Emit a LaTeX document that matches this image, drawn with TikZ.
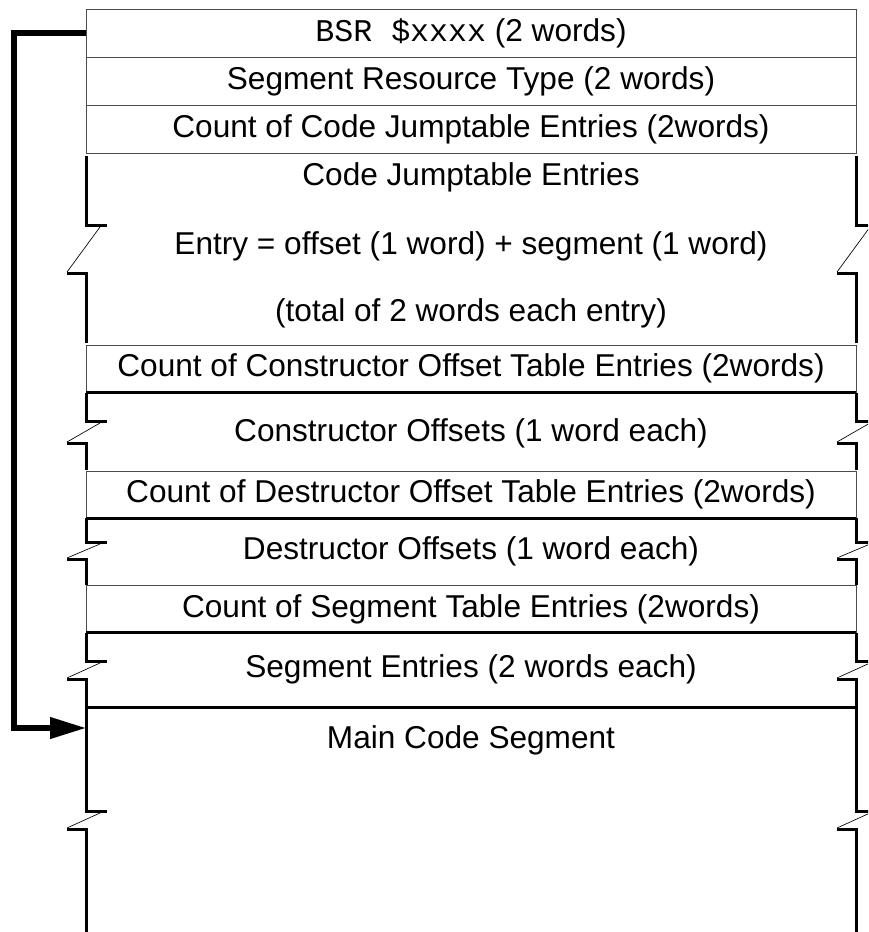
\documentclass[tikz,border=0pt]{standalone}
\usepackage{fontspec}
\setmainfont{Liberation Sans}
\setmonofont{Liberation Mono}
\usepackage{tikz}
\usetikzlibrary{arrows.meta}
\tikzset{field/.style={draw=black!70, line width=0.75pt, minimum width=577.5pt, minimum height=36pt, inner sep=0pt, outer sep=0pt},
fieldlow/.style={field, minimum height=35.25pt},
wall/.style={line width=2.25pt},
breakline/.style={line width=0.5pt},
%thick return arrow of the BSR
jump/.style={line width=4pt, -{Triangle[length=27pt,width=15.5pt]}}}
% wall at x=#1 from #2 to #5, broken between #3 and #4
\newcommand{\brokenwall}[5]{%
\draw[wall] (#1,#2) -- (#1,#3) -- (#1+21,#3);
\draw[breakline] (#1+14,#3+2) -- (#1-19,#4-1);
\draw[wall] (#1-19,#4) -- (#1,#4) -- (#1,#5);}

\begin{document}
\begin{tikzpicture}[x=0.75pt, y=-0.75pt, every node/.style={font=\fontsize{23.7}{28}\selectfont}]
\path[use as bounding box, clip] (0,0) rectangle (868,932);
%\draw[step=50,color=gray] (0,0) grid (868,932);
\node[field] (bsr) at (471,33) {\texttt{BSR \$xxxx} (2 words)};
\node[field] (restype) at (471,81) {Segment Resource Type (2 words)};
\node[field] (cjcount) at (471,129) {Count of Code Jumptable Entries (2words)};
\node (cjhead) at (471,177) {Code Jumptable Entries};
\node (cjentry) at (471,246) {Entry = offset (1 word) + segment (1 word)};
\node (cjtotal) at (471,313) {(total of 2 words each entry)};
\node[fieldlow] (ctorcount) at (471,368.5) {Count of Constructor Offset Table Entries (2words)};
\node (ctoroffs) at (471,433) {Constructor Offsets (1 word each)};
\node[fieldlow] (dtorcount) at (471,494.5) {Count of Destructor Offset Table Entries (2words)};
\node (dtoroffs) at (471,551) {Destructor Offsets (1 word each)};
\node[fieldlow] (segcount) at (471,609) {Count of Segment Table Entries (2words)};
\node (segentries) at (471,669) {Segment Entries (2 words each)};
\node (maincode) at (471,740) {Main Code Segment};
% tops of the sections
\draw[wall] (ctorcount.south west) -- (ctorcount.south east);
\draw[wall] (dtorcount.south west) -- (dtorcount.south east);
\draw[wall] (segcount.south west) -- (segcount.south east);
\draw[wall] (86,707) -- (856,707);
\foreach \wx in {86,856} {
\brokenwall{\wx}{156}{225}{273}{343}
\brokenwall{\wx}{393}{421}{443}{470}
\brokenwall{\wx}{518}{542}{559}{585}
\brokenwall{\wx}{633}{661}{679}{707}
\brokenwall{\wx}{707}{811}{829}{932}
}
\coordinate (mainentry) at (86,728);
\draw[jump] (bsr.west) -- ++(-72,0) |- (mainentry);
\end{tikzpicture}
\end{document}
